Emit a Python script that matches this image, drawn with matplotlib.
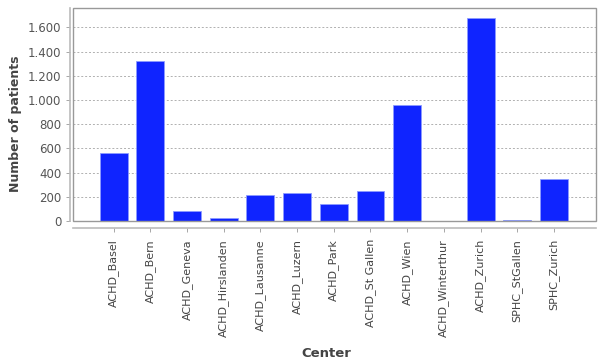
import matplotlib
matplotlib.use('Agg')
import matplotlib.pyplot as plt
from matplotlib.patches import Rectangle
from matplotlib.ticker import FuncFormatter, MultipleLocator

# data
centers = ['ACHD_Basel', 'ACHD_Bern', 'ACHD_Geneva', 'ACHD_Hirslanden', 'ACHD_Lausanne',
           'ACHD_Luzern', 'ACHD_Park', 'ACHD_St Gallen', 'ACHD_Wien', 'ACHD_Winterthur',
           'ACHD_Zurich', 'SPHC_StGallen', 'SPHC_Zurich']
patients = [560, 1320, 83, 28, 218, 229, 138, 251, 958, 2, 1678, 11, 348]

plt.rcParams['font.family'] = 'DejaVu Sans'

fig = plt.figure(figsize=(6, 3.62), dpi=100)
ax = fig.add_axes([0.122, 0.3895, 0.871, 0.588])

x = list(range(len(centers)))
ax.bar(x, patients, width=0.76, color='#0f24ff', edgecolor='#8d9bff', linewidth=0.6, zorder=3)

ax.set_xlim(-1.1, len(centers) - 1 + 1.14)
ax.set_ylim(0, 1760)
ax.yaxis.set_major_locator(MultipleLocator(200))
ax.yaxis.set_major_formatter(FuncFormatter(lambda v, p: f'{int(v):,}'.replace(',', '.')))
ax.grid(axis='y', color='#b0b0b0', linestyle=(0, (2, 2)), linewidth=0.7, zorder=0)

ax.tick_params(axis='y', labelsize=8.5, labelcolor='#555555', color='#999999', length=3, width=0.6)
ax.tick_params(axis='x', labelsize=8, labelcolor='#444444', labelrotation=90,
               color='#999999', length=3, width=0.6, pad=5)
ax.set_xticks(x)
ax.set_xticklabels(centers)

# frame around the plot area, axis lines offset like the original
for s in ['top', 'right']:
    ax.spines[s].set_visible(False)
ax.spines['left'].set_position(('outward', 2))
ax.spines['bottom'].set_position(('outward', 5))
for s in ['left', 'bottom']:
    ax.spines[s].set_color('#bbbbbb')
    ax.spines[s].set_linewidth(1.2)
ax.add_patch(Rectangle((0, 0), 1, 1, transform=ax.transAxes, fill=False,
                       edgecolor='#999999', linewidth=1.0, zorder=4, clip_on=False))

ax.set_ylabel('Number of patients', fontsize=9, fontweight='bold', color='#444444')
ax.yaxis.set_label_coords(-0.098, 0.455)
ax.set_xlabel('Center', fontsize=9.5, fontweight='bold', color='#444444')
ax.xaxis.set_label_coords(0.484, -0.592)

fig.savefig('out.png', dpi=100)
